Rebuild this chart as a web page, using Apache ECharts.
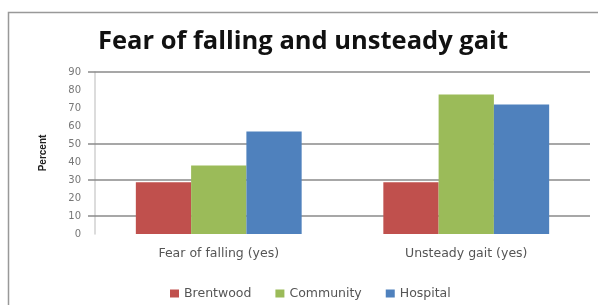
<!DOCTYPE html>
<html>
<head>
<meta charset="utf-8">
<script src="https://cdn.jsdelivr.net/npm/echarts@6/dist/echarts.min.js"></script>
<style>
    html, body { margin: 0; padding: 0; background: #fff; }
    #chart { width: 598px; height: 305px; }
</style>
</head>
<body>
<div id="chart"></div>
<script>
    const categories = ['Fear of falling (yes)', 'Unsteady gait (yes)']
    const seriesNames = ['Brentwood', 'Community', 'Hospital']
    const brentwood = [28.7, 28.7]
    const community = [38, 77.5]
    const hospital = [57, 72]
    const yTicks = [0, 10, 20, 30, 40, 50, 60, 70, 80, 90]
    const gridValues = [10, 30, 50, 90]

    const colors = ['#C0504D', '#9BBB59', '#4F81BD']
    const gridColor = '#8a8a8a'

    const myChart = echarts.init(document.getElementById('chart'))
    const option = {
        animation: false,
        title: {
            text: 'Fear of falling and unsteady gait',
            left: 298,
            top: 24,
            textAlign: 'center',
            textStyle: {
                fontFamily: 'Open Sans',
                fontWeight: 'bold',
                fontSize: 25.5,
                color: '#111'
            }
        },
        graphic: [
            {
                type: 'rect',
                shape: { x: 8.5, y: 12.5, width: 620, height: 320 },
                style: { fill: 'none', stroke: '#999', lineWidth: 1.5 },
                silent: true
            }
        ],
        legend: {
            data: seriesNames,
            top: 282,
            left: 165,
            itemWidth: 9,
            itemHeight: 8,
            itemGap: 24,
            icon: 'rect',
            textStyle: { fontFamily: 'DejaVu Sans', fontSize: 12.5, color: '#555', padding: [0, 0, 0, 0] }
        },
        grid: {
            left: 95,
            right: 8,
            top: 72,
            bottom: 71
        },
        xAxis: {
            type: 'category',
            data: categories,
            axisLine: { show: false },
            axisTick: { show: false },
            axisLabel: {
                margin: 13,
                fontFamily: 'DejaVu Sans',
                fontSize: 12.5,
                color: '#555'
            }
        },
        yAxis: {
            type: 'value',
            min: yTicks[0],
            max: yTicks[yTicks.length - 1],
            interval: 10,
            name: 'Percent',
            nameLocation: 'middle',
            nameGap: 47,
            nameTextStyle: { fontFamily: 'Liberation Sans', fontWeight: 'bold', fontSize: 10, color: '#222' },
            axisLine: { show: true, lineStyle: { color: '#d0d0d0', width: 1.5 } },
            axisTick: { show: true, customValues: gridValues, length: 7, lineStyle: { color: gridColor, width: 1.5 } },
            axisLabel: {
                margin: 14,
                fontFamily: 'DejaVu Sans',
                fontSize: 10,
                color: '#777'
            },
            splitLine: { show: false }
        },
        series: [
            {
                name: seriesNames[0], type: 'bar', data: brentwood, color: colors[0], barGap: '0%', barCategoryGap: '33%', z: 3,
                markLine: {
                    silent: true,
                    symbol: 'none',
                    label: { show: false },
                    lineStyle: { color: gridColor, type: 'solid', width: 1.5 },
                    z: 1,
                    data: gridValues.map(v => ({ yAxis: v }))
                }
            },
            { name: seriesNames[1], type: 'bar', data: community, color: colors[1], barGap: '0%', barCategoryGap: '33%', z: 3 },
            { name: seriesNames[2], type: 'bar', data: hospital, color: colors[2], barGap: '0%', barCategoryGap: '33%', z: 3 }
        ]
    }
    myChart.setOption(option)
</script>
</body>
</html>
